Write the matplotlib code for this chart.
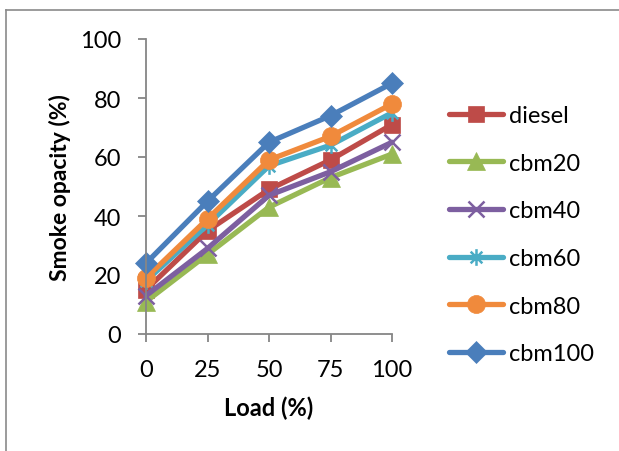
import matplotlib
matplotlib.use("Agg")
import matplotlib.pyplot as plt
from matplotlib.lines import Line2D
from matplotlib.path import Path

plt.rcParams['font.family'] = ['Lato', 'DejaVu Sans']

# engine load (%) and smoke opacity (%) per fuel blend
load = [0, 25, 50, 75, 100]
diesel = [15, 35, 49, 59, 71]
cbm20 = [11, 27, 43, 53, 61]
cbm40 = [13, 29, 47, 55, 65]
cbm60 = [18, 37, 57, 64, 75]
cbm80 = [19, 39, 59, 67, 78]
cbm100 = [24, 45, 65, 74, 85]

# star marker: an X with a vertical bar through it
d = 0.7
star = Path([(0, -1), (0, 1), (-d, -d), (d, d), (-d, d), (d, -d)],
            [Path.MOVETO, Path.LINETO] * 3)

series = [
    ('diesel', diesel, '#BE4B48', 's', 12),
    ('cbm20', cbm20, '#98B954', '^', 13),
    ('cbm40', cbm40, '#7D5FA0', 'x', 11),
    ('cbm60', cbm60, '#4AACC5', star, 12),
    ('cbm80', cbm80, '#F08A3C', 'o', 13),
    ('cbm100', cbm100, '#4A7EBB', 'D', 11),
]

W, H = 619, 452
fig = plt.figure(figsize=(W / 100, H / 100), dpi=100)

# outer chart frame (only top and left edges fall inside the image)
fig.add_artist(Line2D([6 / W, 6 / W], [0, 1 - 11 / H], color='#8a8a8a', lw=1.2))
fig.add_artist(Line2D([6 / W, 1], [1 - 11 / H, 1 - 11 / H], color='#8a8a8a', lw=1.2))

ax = fig.add_axes([146 / W, 1 - 335 / H, (392 - 146) / W, (335 - 40) / H])

for name, vals, col, mk, ms in series:
    thin = mk is star or mk == 'x'
    ax.plot(load, vals, color=col, lw=3.8, marker=mk, markersize=ms,
            markeredgewidth=1.8 if thin else 0.5, markeredgecolor=col,
            markerfacecolor=col, label=name, clip_on=False,
            solid_capstyle='round')

ax.set_xlim(0, 100)
ax.set_ylim(0, 100)
ax.set_xticks(load)
ax.set_yticks(range(0, 101, 20))
for s in ('top', 'right'):
    ax.spines[s].set_visible(False)
for s in ('left', 'bottom'):
    ax.spines[s].set_color('#868686')
    ax.spines[s].set_linewidth(1.3)
ax.tick_params(axis='both', direction='out', length=6, width=1.3,
               color='#868686', labelsize=17, labelcolor='black')
ax.tick_params(axis='y', pad=12)
ax.tick_params(axis='x', pad=12)

ax.set_xlabel('Load (%)', fontsize=17, fontweight='bold', labelpad=11)
ax.set_ylabel('Smoke opacity (%)', fontsize=16.5, fontweight='bold', labelpad=6)

ax.legend(loc='upper left', bbox_to_anchor=(449 / W, 1 - 106 / H),
          bbox_transform=fig.transFigure, frameon=False, fontsize=17,
          handlelength=2.3, handletextpad=0.25, labelspacing=1.13,
          borderaxespad=0, borderpad=0)

fig.savefig('out.png', dpi=100)
